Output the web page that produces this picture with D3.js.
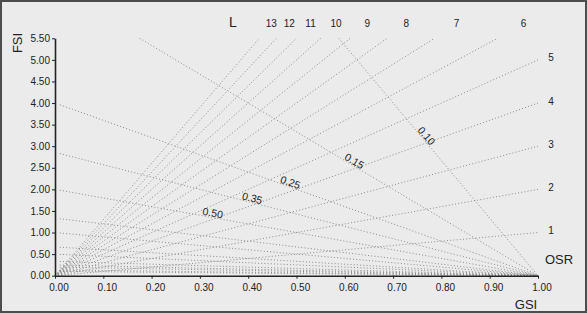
<!DOCTYPE html>
<html>
<head>
<meta charset="utf-8">
<script src="https://cdn.jsdelivr.net/npm/d3@7"></script>
<style>
  html, body { margin: 0; padding: 0; background: #ebebeb; }
  svg { display: block; font-family: "Liberation Sans", Arial, sans-serif; }
  .axis path, .axis line { stroke: #222; }
  .axis text { fill: #222; font-size: 10px; }
</style>
</head>
<body>
<script>
// layer lines (L): FSI = L * GSI
const layers = [1, 2, 3, 4, 5, 6, 7, 8, 9, 10, 11, 12, 13];
// open space ratio lines (OSR): FSI = (1 - GSI) / OSR, as drawn in the picture
const osrValues = [0.075, 0.15, 0.25, 0.35, 0.5, 0.75, 1, 1.5, 2, 3, 4, 5, 7.5, 10];
const osrLabels = ["0.10", "0.15", "0.25", "0.35", "0.50"];
const osrLabelGsi = [0.762, 0.615, 0.484, 0.406, 0.325];
const xTicks = [0, 0.1, 0.2, 0.3, 0.4, 0.5, 0.6, 0.7, 0.8, 0.9, 1.0];
const yTicks = [0, 0.5, 1, 1.5, 2, 2.5, 3, 3.5, 4, 4.5, 5, 5.5];

const w = 587;
const h = 313;
const margin = {top: 38.3, right: 49, bottom: 37.3, left: 55};
const maxFsi = 5.5;

const xScale = d3.scaleLinear()
  .domain([0, 1])
  .range([margin.left, w - margin.right]);

const yScale = d3.scaleLinear()
  .domain([0, maxFsi])
  .range([h - margin.bottom, margin.top]);

const svg = d3.select("body")
  .append("svg")
  .attr("width", w)
  .attr("height", h);

// frame
svg.append("rect")
  .attr("x", 1).attr("y", 1)
  .attr("width", w - 2).attr("height", h - 2)
  .attr("fill", "#ebebeb")
  .attr("stroke", "#4d4d4d")
  .attr("stroke-width", 2);

const line = d3.line().x(d => xScale(d[0])).y(d => yScale(d[1]));

// L lines from the origin
svg.append("g")
  .selectAll("path")
  .data(layers)
  .enter()
  .append("path")
  .attr("d", (L) => {
    const g = Math.min(1, maxFsi / L);
    return line([[0, 0], [g, L * g]]);
  })
  .attr("fill", "none")
  .attr("stroke", "#8c8c8c")
  .attr("stroke-width", 1)
  .attr("stroke-dasharray", "1,2.2");

// OSR lines converge at GSI = 1
svg.append("g")
  .selectAll("path")
  .data(osrValues)
  .enter()
  .append("path")
  .attr("d", (o) => {
    const g0 = Math.max(0.01, 1 - maxFsi * o);
    return line([[g0, (1 - g0) / o], [1, 0]]);
  })
  .attr("fill", "none")
  .attr("stroke", "#8c8c8c")
  .attr("stroke-width", 1)
  .attr("stroke-dasharray", "1,2.2");

// OSR labels, rotated along their line
osrLabels.forEach((t, i) => {
  const o = osrValues[i];
  const g = osrLabelGsi[i];
  const px = xScale(g), py = yScale((1 - g) / o);
  const slope = (yScale(0) - yScale(1 / o)) / (xScale(1) - xScale(0));
  const a = Math.atan(slope);
  const ang = a * 180 / Math.PI;
  const off = 4.5;
  const cx = px + off * Math.sin(a);
  const cy = py - off * Math.cos(a);
  svg.append("text")
    .attr("transform", "translate(" + cx + "," + cy + ") rotate(" + ang + ")")
    .attr("text-anchor", "middle")
    .attr("dy", "0.35em")
    .attr("font-size", "10.5px")
    .attr("fill", "#222")
    .text(t);
});

// axes
const xAxis = d3.axisBottom(xScale)
  .tickValues(xTicks)
  .tickFormat(d3.format(".2f"))
  .tickSize(3)
  .tickSizeOuter(0)
  .tickPadding(5);

const yAxis = d3.axisLeft(yScale)
  .tickValues(yTicks)
  .tickFormat(d3.format(".2f"))
  .tickSize(3)
  .tickSizeOuter(0)
  .tickPadding(2);

const gx = svg.append("g")
  .attr("class", "axis")
  .attr("transform", "translate(0," + (h - margin.bottom) + ")")
  .call(xAxis);
gx.select(".domain").attr("stroke-width", 1.6);
gx.selectAll("text").attr("dx", "3.5");

const gy = svg.append("g")
  .attr("class", "axis")
  .attr("transform", "translate(" + margin.left + ",0)")
  .call(yAxis);
gy.select(".domain").attr("stroke-width", 1.6);

// L labels: top (steep lines) and right side (flat lines)
svg.append("g")
  .selectAll("text")
  .data(layers.filter(L => L > maxFsi))
  .enter()
  .append("text")
  .attr("x", (L) => xScale(5.82 / L))
  .attr("y", 23)
  .attr("dy", "0.35em")
  .attr("text-anchor", "middle")
  .attr("font-size", "10px")
  .attr("fill", "#222")
  .text(L => L);

svg.append("g")
  .selectAll("text")
  .data(layers.filter(L => L <= maxFsi))
  .enter()
  .append("text")
  .attr("x", xScale(1) + 13)
  .attr("y", (L) => yScale(L) - 2)
  .attr("dy", "0.35em")
  .attr("text-anchor", "middle")
  .attr("font-size", "10px")
  .attr("fill", "#222")
  .text(L => L);

// titles
svg.append("text")
  .attr("x", 233).attr("y", 22)
  .attr("dy", "0.35em")
  .attr("text-anchor", "middle")
  .attr("font-size", "14px")
  .attr("fill", "#222")
  .text("L");

svg.append("text")
  .attr("transform", "translate(17.5,43) rotate(-90)")
  .attr("dy", "0.35em")
  .attr("text-anchor", "middle")
  .attr("font-size", "13px")
  .attr("fill", "#222")
  .text("FSI");

svg.append("text")
  .attr("x", 526).attr("y", 304)
  .attr("dy", "0.35em")
  .attr("text-anchor", "middle")
  .attr("font-size", "13px")
  .attr("fill", "#222")
  .text("GSI");

svg.append("text")
  .attr("x", 559).attr("y", 259)
  .attr("dy", "0.35em")
  .attr("text-anchor", "middle")
  .attr("font-size", "13px")
  .attr("fill", "#222")
  .text("OSR");
</script>
</body>
</html>
